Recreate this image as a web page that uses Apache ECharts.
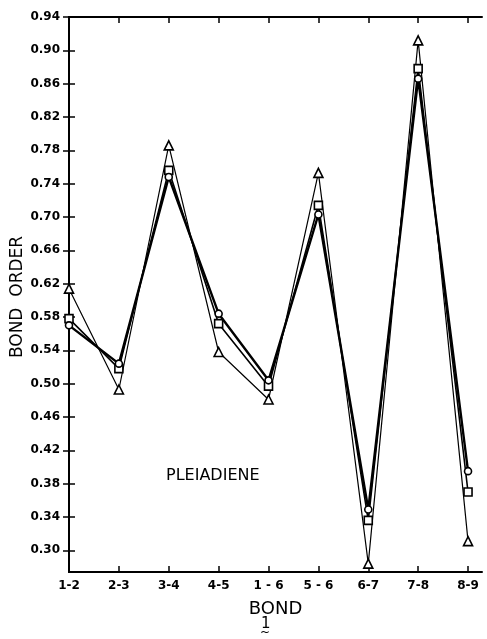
<!DOCTYPE html>
<html>
<head>
<meta charset="utf-8">
<script src="https://cdn.jsdelivr.net/npm/echarts@6/dist/echarts.min.js"></script>
<style>
  html, body { margin: 0; padding: 0; background: #fff; }
  #chart { width: 487px; height: 639px; }
</style>
</head>
<body>
<div id="chart"></div>
<script>
// Bond orders of pleiadiene computed by three methods
const bonds = ['1-2', '2-3', '3-4', '4-5', '1 - 6', '5 - 6', '6-7', '7-8', '8-9'];
const triangleSeries = [0.614, 0.493, 0.786, 0.538, 0.481, 0.753, 0.284, 0.912, 0.311];
const squareSeries   = [0.578, 0.518, 0.756, 0.572, 0.497, 0.714, 0.336, 0.878, 0.370];
const circleSeries   = [0.570, 0.524, 0.748, 0.584, 0.504, 0.703, 0.349, 0.866, 0.395];
const yTicks = [0.30, 0.34, 0.38, 0.42, 0.46, 0.50, 0.54, 0.58, 0.62, 0.66, 0.70, 0.74, 0.78, 0.82, 0.86, 0.90, 0.94];

const FONT = 'DejaVu Sans';
const pairs = arr => arr.map((v, i) => [i, v]);
const xTickIdx = bonds.map((_, i) => i);

const chart = echarts.init(document.getElementById('chart'), null, { renderer: 'canvas' });

function lineSeries(data, symbol, size, width, z) {
  return {
    type: 'line',
    data: pairs(data),
    symbol: symbol,
    symbolSize: size,
    showAllSymbol: true,
    lineStyle: { color: '#000', width: width },
    itemStyle: { color: '#fff', borderColor: '#000', borderWidth: 1.6 },
    emphasis: { disabled: true },
    z: z
  };
}

chart.setOption({
  animation: false,
  backgroundColor: '#fff',
  grid: { left: 69, top: 17, right: 5, bottom: 67, outerBoundsMode: 'none' },
  xAxis: [{
    type: 'value',
    min: 0,
    max: 8.28,
    axisLine: { lineStyle: { color: '#000', width: 2 } },
    axisTick: { inside: true, length: 6, customValues: xTickIdx, lineStyle: { color: '#000', width: 1.5 } },
    splitLine: { show: false },
    axisLabel: {
      customValues: xTickIdx,
      formatter: v => bonds[Math.round(v)],
      color: '#000', fontFamily: FONT, fontSize: 12, fontWeight: 'bold', margin: 8
    },
    name: 'BOND',
    nameLocation: 'middle',
    nameGap: 28,
    nameTextStyle: { color: '#000', fontFamily: FONT, fontSize: 18 }
  }, {
    type: 'value',
    position: 'top',
    min: 0,
    max: 8.28,
    axisLine: { lineStyle: { color: '#000', width: 2 } },
    axisTick: { inside: true, length: 6, customValues: xTickIdx, lineStyle: { color: '#000', width: 1.5 } },
    axisLabel: { show: false },
    splitLine: { show: false }
  }],
  yAxis: [{
    type: 'value',
    min: 0.274,
    max: 0.94,
    axisLine: { show: true, lineStyle: { color: '#000', width: 2 } },
    axisTick: { show: true, inside: true, length: 6, customValues: yTicks, lineStyle: { color: '#000', width: 1.5 } },
    splitLine: { show: false },
    axisLabel: {
      customValues: yTicks,
      formatter: v => v.toFixed(2),
      color: '#000', fontFamily: FONT, fontSize: 12, fontWeight: 'bold', margin: 9
    }
  }, {
    type: 'value',
    position: 'right',
    min: 0.274,
    max: 0.94,
    axisLine: { show: true, lineStyle: { color: '#000', width: 2 } },
    axisTick: { show: true, inside: true, length: 6, customValues: yTicks, lineStyle: { color: '#000', width: 1.5 } },
    axisLabel: { show: false },
    splitLine: { show: false }
  }],
  series: [
    lineSeries(triangleSeries, 'triangle', 9, 1.2, 3),
    lineSeries(squareSeries, 'rect', 8, 1.6, 4),
    lineSeries(circleSeries, 'circle', 7, 2.4, 5)
  ],
  graphic: [
    // vertical axis title
    { type: 'text', x: 18, y: 297, rotation: Math.PI / 2,
      style: { text: 'BOND  ORDER', fill: '#000', font: '17px "DejaVu Sans"', align: 'center', verticalAlign: 'middle' } },
    { type: 'text', left: 166, top: 468,
      style: { text: 'PLEIADIENE', fill: '#000', font: '16px "DejaVu Sans"' } },
    { type: 'text', left: 261, top: 617,
      style: { text: '1', fill: '#000', font: '15px "DejaVu Sans"' } },
    { type: 'text', left: 260, top: 627,
      style: { text: '~', fill: '#000', font: '12px "DejaVu Sans"' } }
  ]
});
</script>
</body>
</html>
